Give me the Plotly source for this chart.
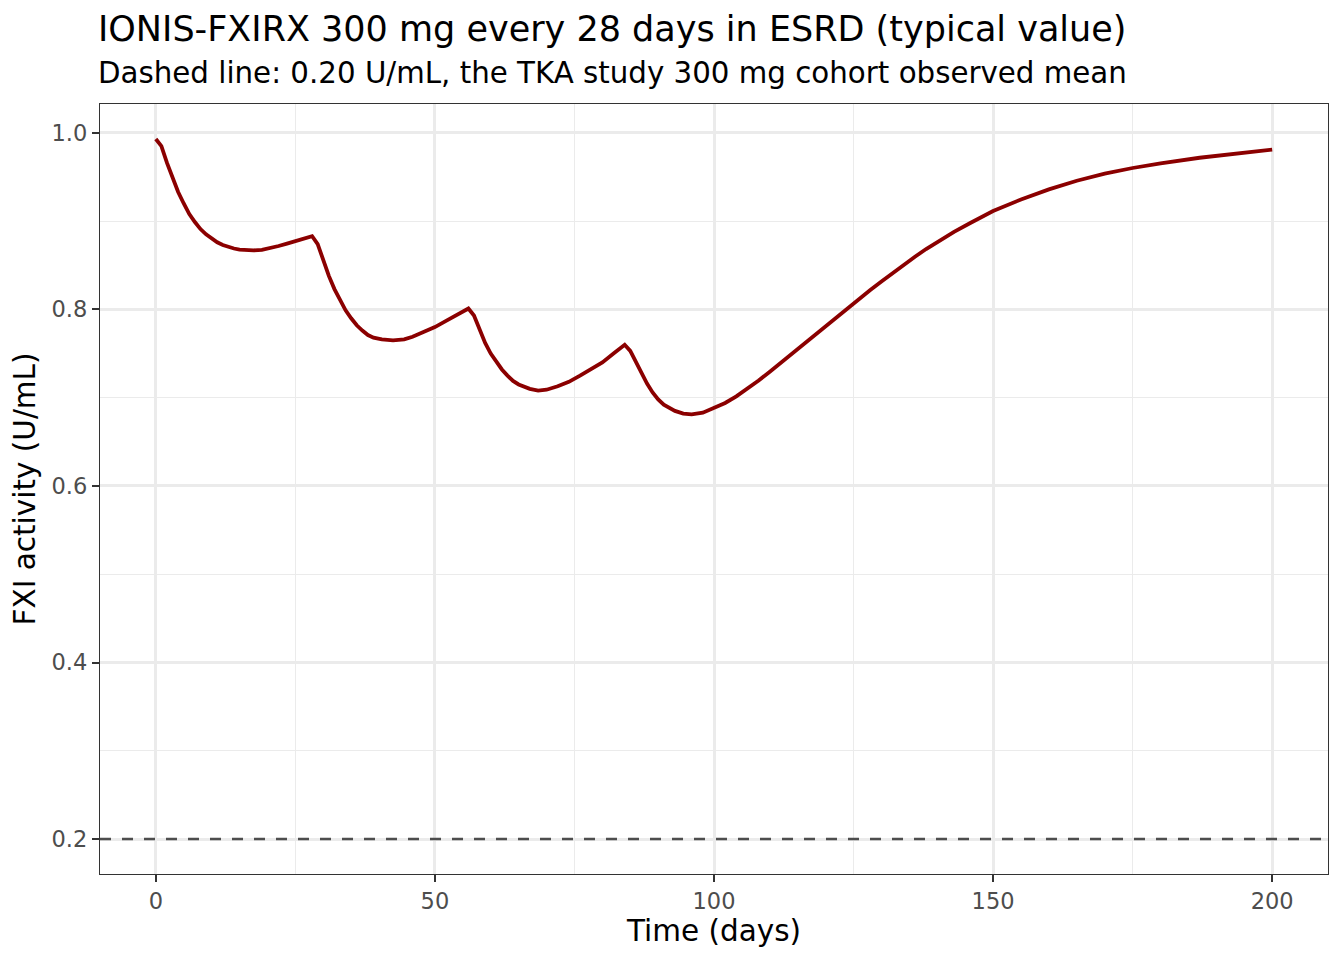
import plotly.graph_objects as go

# typical-value FXI activity profile
time_days = [0, 1, 2, 3, 4, 5, 6, 7, 8, 9, 10, 11, 12, 13, 14, 15, 16, 17.5, 19, 20.5, 22, 23.5, 25, 26.5, 28,
             29, 30, 31, 32, 33, 34, 35, 36, 37, 38, 39, 40.5, 42.5, 44.5, 46, 48, 50, 52, 54, 56,
             57, 58, 59, 60, 61, 62, 63, 64, 65, 66, 67, 68.5, 70, 72, 74, 76, 78, 80, 82, 84,
             85, 86, 87, 88, 89, 90, 91, 92, 93, 94.5, 96, 98, 100, 102, 104, 106, 108, 110,
             112, 114, 116, 118, 120, 122, 124, 126, 128, 130, 132, 134, 136, 138, 140, 143, 146, 150,
             155, 160, 165, 170, 175, 180, 187, 193.5, 200]
fxi_activity = [0.993, 0.985, 0.966, 0.948, 0.933, 0.920, 0.908, 0.899, 0.891, 0.885, 0.880, 0.876, 0.873,
                0.8707, 0.8690, 0.8678, 0.8671, 0.8668, 0.8675, 0.8693, 0.8718, 0.8745, 0.8772, 0.8800, 0.883,
                0.874, 0.855, 0.838, 0.823, 0.810, 0.799, 0.790, 0.782, 0.776, 0.771, 0.768, 0.766, 0.765,
                0.766, 0.769, 0.774, 0.780, 0.787, 0.794, 0.801,
                0.793, 0.776, 0.762, 0.750, 0.740, 0.732, 0.725, 0.719, 0.715, 0.712, 0.710, 0.708, 0.709,
                0.713, 0.718, 0.725, 0.732, 0.740, 0.750, 0.760,
                0.753, 0.740, 0.728, 0.716, 0.706, 0.698, 0.692, 0.688, 0.685, 0.682, 0.681, 0.683, 0.688,
                0.694, 0.7015, 0.710, 0.7195, 0.7295,
                0.7398, 0.7503, 0.7608, 0.7713, 0.7818, 0.7921, 0.8022, 0.8121, 0.8219, 0.8316, 0.8412,
                0.8506, 0.8597, 0.8684, 0.8765, 0.8878, 0.8982, 0.9115,
                0.9245, 0.9360, 0.9458, 0.9538, 0.9602, 0.9655, 0.9718, 0.9768, 0.981]

ref_level = 0.20  # TKA study 300 mg cohort observed mean

x_ticks = [0, 50, 100, 150, 200]
y_ticks = [0.2, 0.4, 0.6, 0.8, 1.0]

font = "DejaVu Sans"

fig = go.Figure()
fig.add_hline(y=ref_level, line=dict(color="#4D4D4D", width=2.5, dash="11px,11px"), layer="above")
fig.add_trace(go.Scatter(x=time_days, y=fxi_activity, mode="lines",
                         line=dict(color="#8B0000", width=3.8),
                         showlegend=False))

axis_common = dict(showline=True, linecolor="#333333", linewidth=1.3, mirror=True,
                   ticks="outside", ticklen=7, tickwidth=2, tickcolor="#333333",
                   tickfont=dict(family=font, size=22.5, color="#4D4D4D"),
                   gridcolor="#EBEBEB", gridwidth=2.6, zeroline=False,
                   title_font=dict(family=font, size=29.5, color="black"))

fig.update_xaxes(range=[-10, 210], tickvals=x_ticks,
                 minor=dict(dtick=25, tick0=0, showgrid=True, gridcolor="#EBEBEB", gridwidth=1.3, ticks=""),
                 title_text="Time (days)", title_standoff=6, **axis_common)
fig.update_yaxes(range=[0.1604, 1.0327], tickvals=y_ticks, tickformat=".1f",
                 minor=dict(dtick=0.1, tick0=0.2, showgrid=True, gridcolor="#EBEBEB", gridwidth=1.3, ticks=""),
                 title_text="FXI activity (U/mL)", title_standoff=12, **axis_common)

fig.add_annotation(text="IONIS-FXIRX 300 mg every 28 days in ESRD (typical value)",
                   xref="paper", yref="paper", x=0, y=1, xanchor="left", yanchor="middle",
                   xshift=-4, yshift=75, showarrow=False, font=dict(family=font, size=35, color="black"))
fig.add_annotation(text="Dashed line: 0.20 U/mL, the TKA study 300 mg cohort observed mean",
                   xref="paper", yref="paper", x=0, y=1, xanchor="left", yanchor="middle",
                   xshift=-4, yshift=31, showarrow=False, font=dict(family=font, size=29.3, color="black"))

# page body has an 8px margin, so the figure is trimmed by that much
fig.update_layout(width=1336, height=952, plot_bgcolor="white", paper_bgcolor="white",
                  margin=dict(l=92, r=16, t=96, b=86))

fig.write_html("out.html")
